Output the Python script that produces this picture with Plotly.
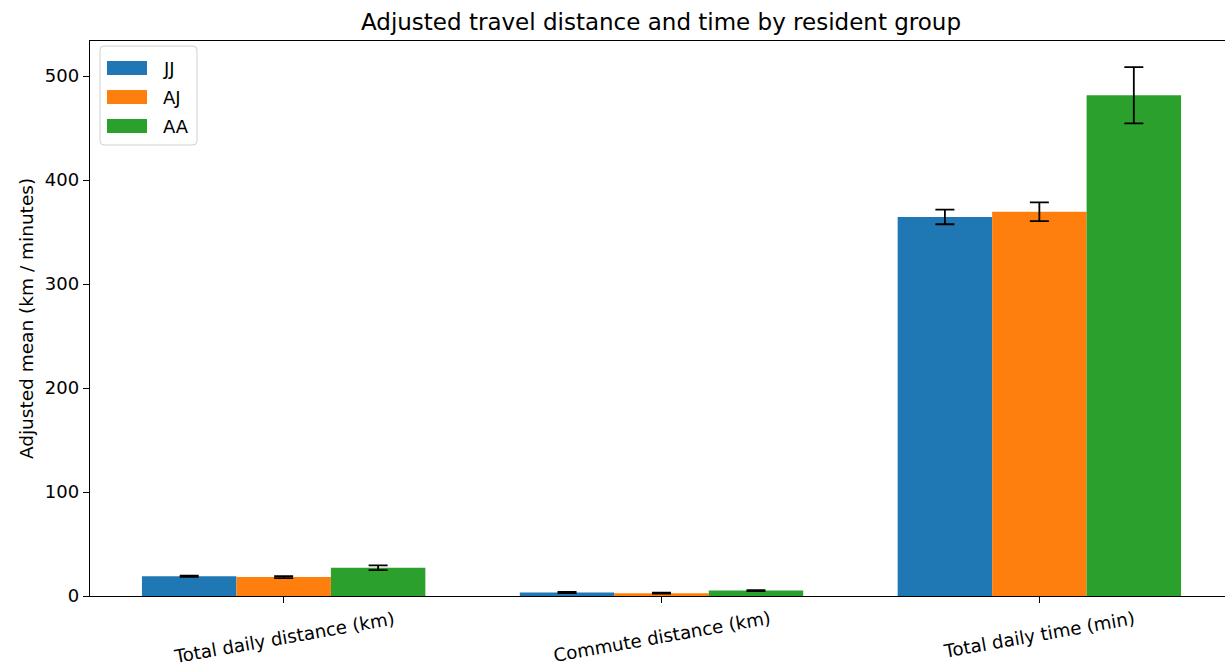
import plotly.graph_objects as go

# Adjusted means and standard errors per resident group
measures = ["Total daily distance (km)", "Commute distance (km)", "Total daily time (min)"]
groups = ["JJ", "AJ", "AA"]
colors = ["#1f77b4", "#ff7f0e", "#2ca02c"]

jj_mean = [19.0, 3.4, 364.5]
aj_mean = [18.2, 2.7, 369.5]
aa_mean = [27.2, 5.2, 481.5]

jj_err = [0.6, 0.5, 7.0]
aj_err = [1.0, 0.5, 9.0]
aa_err = [2.3, 0.4, 27.0]

means = [jj_mean, aj_mean, aa_mean]
errs = [jj_err, aj_err, aa_err]

FONT = "DejaVu Sans"
FS = 18

fig = go.Figure()
for name, color, m, e in zip(groups, colors, means, errs):
    fig.add_trace(go.Bar(
        x=measures, y=m, name=name,
        marker=dict(color=color, line=dict(width=0)),
        error_y=dict(type="data", array=e, visible=True,
                     color="black", thickness=1.8, width=9.5),
        showlegend=False,
    ))

# Rotated category labels under each tick
annotations = []
for lab in measures:
    annotations.append(dict(
        x=lab, xref="x", y=0, yref="paper", yshift=-9,
        text=lab, showarrow=False, textangle=-10,
        xanchor="center", yanchor="top",
        font=dict(family=FONT, size=18.2, color="black"),
    ))

# Legend box with wide swatches
shapes = []
r = 4
bx0, bx1, by0, by1 = 10, 107, -5, -104
box_path = (
    f"M {bx0 + r},{by0} L {bx1 - r},{by0} Q {bx1},{by0} {bx1},{by0 - r} "
    f"L {bx1},{by1 + r} Q {bx1},{by1} {bx1 - r},{by1} "
    f"L {bx0 + r},{by1} Q {bx0},{by1} {bx0},{by1 + r} "
    f"L {bx0},{by0 - r} Q {bx0},{by0} {bx0 + r},{by0} Z"
)
shapes.append(dict(
    type="path", path=box_path, xref="paper", yref="paper",
    xsizemode="pixel", ysizemode="pixel", xanchor=0, yanchor=1,
    line=dict(color="#d0d0d0", width=1), fillcolor="rgba(255,255,255,0.85)",
))
for i, (name, color) in enumerate(zip(groups, colors)):
    top = -20 - 29 * i
    shapes.append(dict(
        type="rect", xref="paper", yref="paper",
        xsizemode="pixel", ysizemode="pixel", xanchor=0, yanchor=1,
        x0=17, x1=57, y0=top, y1=top - 14,
        line=dict(width=0), fillcolor=color,
    ))
    annotations.append(dict(
        x=0, xref="paper", y=1, yref="paper",
        xshift=71, yshift=top - 7,
        text=name, showarrow=False, xanchor="left", yanchor="middle",
        font=dict(family=FONT, size=FS, color="black"),
    ))

fig.update_layout(
    width=1225, height=666,
    margin=dict(l=90, r=0, t=41, b=70),
    paper_bgcolor="white", plot_bgcolor="white",
    barmode="group", bargap=0.25, bargroupgap=0,
    font=dict(family=FONT, size=FS, color="black"),
    title=dict(text="Adjusted travel distance and time by resident group",
               x=661 / 1225, xref="container", xanchor="center",
               y=1 - 22 / 666, yref="container", yanchor="middle",
               font=dict(family=FONT, size=23, color="black")),
    xaxis=dict(
        type="category", range=[-0.5125, 2.4913],
        showline=True, linecolor="black", linewidth=1.4, mirror=True,
        ticks="outside", ticklen=6, tickcolor="black", tickwidth=1.4,
        showticklabels=False, showgrid=False, zeroline=False,
    ),
    yaxis=dict(
        range=[0, 533.7],
        showline=True, linecolor="black", linewidth=1.4,
        ticks="outside", ticklen=6, tickcolor="black", tickwidth=1.4,
        tickvals=[0, 100, 200, 300, 400, 500],
        tickfont=dict(family=FONT, size=FS, color="black"),
        showgrid=False, zeroline=False,
        title=dict(text="Adjusted mean (km / minutes)", standoff=6,
                   font=dict(family=FONT, size=18.5, color="black")),
    ),
    shapes=shapes,
    annotations=annotations,
)

fig.write_html("out.html")
